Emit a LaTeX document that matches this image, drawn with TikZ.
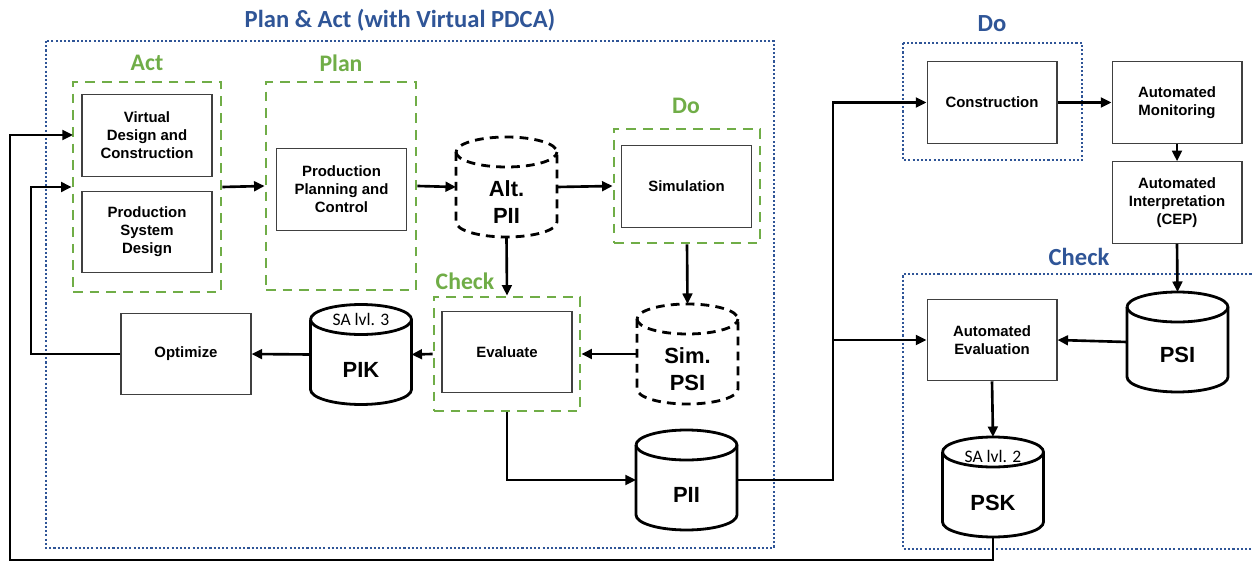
\documentclass[tikz,border=0pt]{standalone}
\usepackage{fontspec}
\setmainfont{Liberation Sans}
\newfontfamily\calfont{Carlito}
\usetikzlibrary{arrows.meta,calc}
\definecolor{pgreen}{HTML}{70AD47}
\definecolor{pblue}{HTML}{2F5597}
\tikzset{
 box/.style={draw=black!75, line width=0.6pt, fill=white, minimum width=2.6cm, minimum height=1.63cm, align=center, font=\fontsize{8.5}{10.2}\selectfont\bfseries, inner sep=1pt},
 gbox/.style={draw=pgreen, line width=1.6pt, dash pattern=on 5.5pt off 4pt, minimum width=#1},
 bbox/.style={draw=pblue, line width=1.3pt, dash pattern=on 1.2pt off 1.2pt},
 cyl/.style={draw=none, minimum width=2.02cm, minimum height=2cm, inner sep=0pt, outer sep=0pt},
 cylline/.style={line width=1.6pt, line join=round},
 dcylline/.style={cylline, dash pattern=on 5pt off 3.5pt},
 arr/.style={line width=1.5pt, -{Triangle[length=6pt,width=5.5pt]}},
 glab/.style={text=pgreen, font=\calfont\bfseries\fontsize{13.5}{16}\selectfont},
 blab/.style={text=pblue, font=\calfont\bfseries\fontsize{14}{16}\selectfont},
 big/.style={font=\bfseries\fontsize{12.5}{15}\selectfont, align=center},
 sa/.style={font=\calfont\fontsize{10}{12}\selectfont},
}
\newcommand\cylpath[2]{%
 \draw[#1] ([yshift=-0.3cm]#2.north west) -- ([yshift=0.3cm]#2.south west)
   arc[start angle=180,end angle=360,x radius=1.01cm,y radius=0.3cm]
   -- ([yshift=-0.3cm]#2.north east)
   arc[start angle=0,end angle=180,x radius=1.01cm,y radius=0.3cm];
 \draw[#1] ([yshift=-0.3cm]#2.north west)
   arc[start angle=180,end angle=360,x radius=1.01cm,y radius=0.3cm];}
\begin{document}
\begin{tikzpicture}[x=0.02cm, y=-0.02cm]
\useasboundingbox (0,0) rectangle (1253,563);

% blue dotted frames
\draw[bbox] (46,41) rectangle (774,548);
\draw[bbox] (903,43) rectangle (1082,160);
\draw[bbox] (1260,274) -- (903,274) -- (903,549) -- (1260,549);

% titles
\node[blab] (ttl) at (400,20) {Plan \& Act (with Virtual PDCA)};
\node[blab] (tdo) at (992,24) {Do};
\node[blab] (tchk) at (1079,257) {Check};
\node[glab] (tact) at (147,63) {Act};
\node[glab] (tplan) at (341,63) {Plan};
\node[glab] (tgdo) at (686,106) {Do};
\node[glab] (tgchk) at (465,281) {Check};

% green dashed frames
\node[gbox=2.96cm, minimum height=4.2cm] (actbox) at (147,187) {};
\node[gbox=3.0cm, minimum height=4.16cm] (planbox) at (341,186) {};
\node[gbox=2.92cm, minimum height=2.28cm] (dobox) at (687,186) {};
\node[gbox=2.92cm, minimum height=2.28cm] (chkbox) at (507,354) {};

% boxes
\node[box] (vdc) at (147,135.5) {Virtual\\Design and\\Construction};
\node[box] (psd) at (147,232) {Production\\System\\Design};
\node[box] (ppc) at (341.5,189.5) {Production\\Planning and\\Control};
\node[box] (sim) at (686.5,186.5) {Simulation};
\node[box] (eval) at (507,352) {Evaluate};
\node[box] (opt) at (186,354) {Optimize};
\node[box] (constr) at (992,102.5) {Construction};
\node[box] (amon) at (1177,102.5) {Automated\\Monitoring};
\node[box] (aint) at (1177,202.5) {Automated\\Interpretation\\(CEP)};
\node[box] (aeval) at (992,340) {Automated\\Evaluation};

% cylinders
\node[cyl] (altpii) at (506.5,187) {};
\node[cyl] (simpsi) at (687.5,354) {};
\node[cyl] (pik) at (361,354.5) {};
\node[cyl] (pii) at (686.5,480) {};
\node[cyl] (psi) at (1177.5,342) {};
\node[cyl] (psk) at (993,487) {};
\cylpath{dcylline}{altpii}
\cylpath{dcylline}{simpsi}
\cylpath{cylline}{pik}
\cylpath{cylline}{pii}
\cylpath{cylline}{psi}
\cylpath{cylline}{psk}
\node[big] (taltpii) at ($(altpii.center)+(0,15)$) {Alt.\\PII};
\node[big] (tsimpsi) at ($(simpsi.center)+(0,15)$) {Sim.\\PSI};
\node[big] (tpik) at ($(pik.center)+(0,15)$) {PIK};
\node[big] (tpii) at ($(pii.center)+(0,15)$) {PII};
\node[big] (tpsi) at ($(psi.center)+(0,13)$) {PSI};
\node[big] (tpsk) at ($(psk.center)+(0,16)$) {PSK};
\node[sa] (sa3) at ($(pik.center)+(0,-35)$) {SA lvl. 3};
\node[sa] (sa2) at ($(psk.center)+(0,-31)$) {SA lvl. 2};

% connectors
\draw[arr] (actbox.east) -- (planbox.west);
\draw[arr] (planbox.east) -- (altpii.west);
\draw[arr] (altpii.east) -- (dobox.west);
\draw[arr] (altpii.south) -- (chkbox.north);
\draw[arr] (dobox.south) -- (simpsi.north);
\draw[arr] (simpsi.west) -- (chkbox.east);
\draw[arr] (chkbox.west) -- (pik.east);
\draw[arr] (pik.west) -- (opt.east);
\draw[arr] (opt.west) -- (31,354) |- (actbox.west);
\draw[arr] (chkbox.south) |- (pii.west);
\draw[arr] (pii.east) -- (833,480) |- (constr.west);
\coordinate (br) at (833,340);
\draw[arr] (br) -- (aeval.west);
\draw[arr] (constr.east) -- (amon.west);
\draw[arr] (amon.south) -- (aint.north);
\draw[arr] (aint.south) -- (psi.north);
\draw[arr] (psi.west) -- (aeval.east);
\draw[arr] (aeval.south) -- (psk.north);
\coordinate (actin) at (73,135);
\draw[arr] (psk.south) -- (993,560) -| (10,135) -- (actin);
\end{tikzpicture}
\end{document}
